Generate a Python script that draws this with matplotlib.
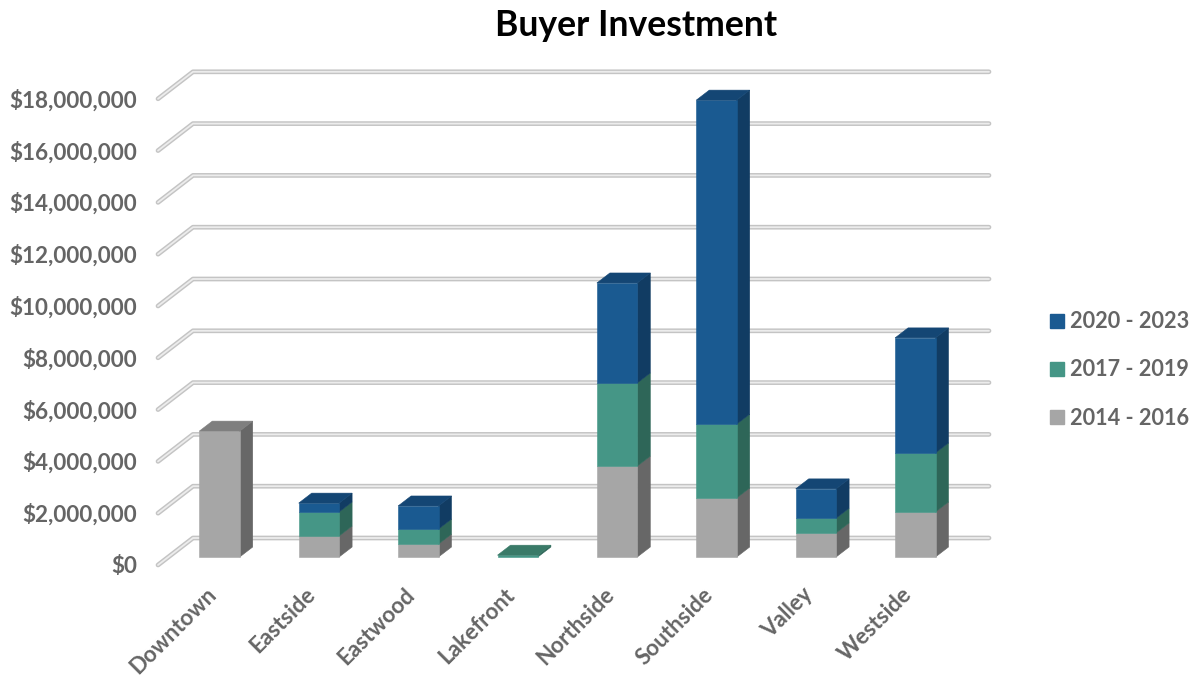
import matplotlib
matplotlib.use("Agg")
import matplotlib.pyplot as plt
from matplotlib.patches import Polygon, Patch

plt.rcParams['font.family'] = ['Lato', 'DejaVu Sans']

neighborhoods = ["Downtown", "Eastside", "Eastwood", "Lakefront",
                 "Northside", "Southside", "Valley", "Westside"]
period_2014_2016 = [4860000, 810000, 500000, 0, 3510000, 2280000, 930000, 1740000]
period_2017_2019 = [0, 930000, 580000, 70000, 3210000, 2850000, 570000, 2280000]
period_2020_2023 = [0, 340000, 890000, 0, 3860000, 12510000, 1130000, 4440000]
grid_values = [0, 2000000, 4000000, 6000000, 8000000, 10000000,
               12000000, 14000000, 16000000, 18000000]

W, H = 1197, 677
fig = plt.figure(figsize=(W / 100, H / 100), dpi=100)

# Axes spans the whole canvas; limits give 99.4 px per category, 25.9 px per million.
PX_X = 99.4
PX_Y = 25.9 / 1e6
ax = fig.add_axes([0, 0, 1, 1])
ax.set_xlim(-219.5 / PX_X, (W - 219.5) / PX_X)
ax.set_ylim(-(H - 557) / PX_Y, 557 / PX_Y)
ax.axis("off")

depth_x = 13 / PX_X
depth_y = 10 / PX_Y
half = 20.2 / PX_X

# Floor and back-wall gridlines of the pseudo-3D plot
gx = [(158 - 219.5) / PX_X, (193 - 219.5) / PX_X, (989 - 219.5) / PX_X]
for v in grid_values:
    gy = [v - 8 / PX_Y, v + 19 / PX_Y, v + 19 / PX_Y]
    ax.plot(gx, gy, color="#c4c4c4", lw=3.4, solid_capstyle="round",
            solid_joinstyle="round", zorder=1)
    ax.plot(gx, gy, color="#ececec", lw=1.3, solid_capstyle="round",
            solid_joinstyle="round", zorder=1.1)

series = [
    (period_2014_2016, "2014 - 2016", "#a6a6a6", "#7f7f7f", "#676767"),
    (period_2017_2019, "2017 - 2019", "#459686", "#3a7a68", "#2e6658"),
    (period_2020_2023, "2020 - 2023", "#1a5a91", "#144674", "#113c63"),
]

for i in range(len(neighborhoods)):
    base = 0
    top_colour = None
    for values, _, front, top, side in series:
        v = values[i]
        if v <= 0:
            continue
        x0, x1 = i - half, i + half
        y0, y1 = base, base + v
        ax.add_patch(Polygon([(x1, y0), (x1 + depth_x, y0 + depth_y),
                              (x1 + depth_x, y1 + depth_y), (x1, y1)],
                             facecolor=side, edgecolor=side, lw=0.4, zorder=3))
        ax.add_patch(Polygon([(x0, y0), (x1, y0), (x1, y1), (x0, y1)],
                             facecolor=front, edgecolor=front, lw=0.4, zorder=3))
        base = y1
        top_colour = top
    x0, x1 = i - half, i + half
    ax.add_patch(Polygon([(x0, base), (x1, base), (x1 + depth_x, base + depth_y),
                          (x0 + depth_x, base + depth_y)],
                         facecolor=top_colour, edgecolor=top_colour, lw=0.4, zorder=3))

# Value labels sit just left of the floor lines
for v in grid_values:
    ax.text((137 - 219.5) / PX_X, v - 9.5 / PX_Y, f"${v:,.0f}",
            ha="right", va="center", fontsize=16.2, fontweight="bold", color="#656565")

for i, name in enumerate(neighborhoods):
    ax.text(i - 14 / PX_X, -27 / PX_Y, name, rotation=45, rotation_mode="anchor",
            ha="right", va="top", fontsize=16.1, fontweight="bold", color="#656565")

ax.text((636 - 219.5) / PX_X, (557 - 26) / PX_Y, "Buyer Investment", ha="center",
        va="center", fontsize=25.6, fontweight="bold", color="black")

handles = [Patch(facecolor=s[2], edgecolor=s[2], label=s[1]) for s in reversed(series)]
leg = fig.legend(handles=handles, loc="center left",
                 bbox_to_anchor=(1050 / W, 1 - 370 / H), frameon=False,
                 prop={"size": 15.6, "weight": "bold"}, labelcolor="#656565",
                 handlelength=0.65, handleheight=0.65, handletextpad=0.25,
                 labelspacing=1.25, borderpad=0, borderaxespad=0)

fig.savefig("out.png", dpi=100, facecolor="white")
